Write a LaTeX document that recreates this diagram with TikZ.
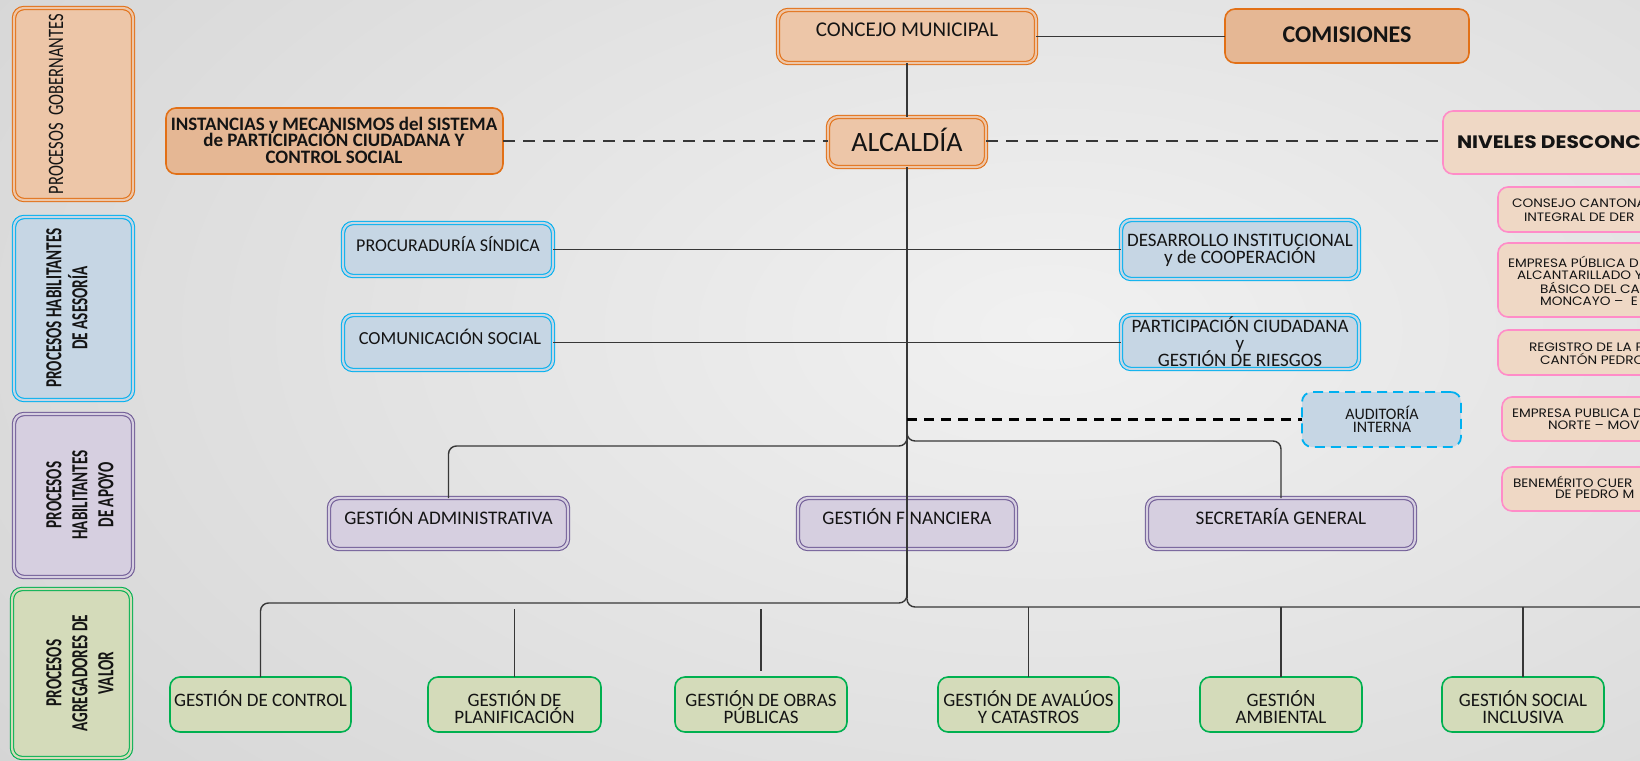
\documentclass[tikz,border=0pt]{standalone}
\usepackage{fontspec}
\setmainfont{Carlito}
\newfontfamily\condreg[FakeStretch=0.75]{Carlito}
\newfontfamily\condbold[FakeStretch=0.66]{Carlito}
\newfontfamily\gothic[FakeStretch=1.12]{Poppins}
\usetikzlibrary{fit}
\definecolor{bgin}{RGB}{241,241,241}
\definecolor{bgout}{RGB}{192,192,192}
\definecolor{orgB}{RGB}{226,112,22}
\definecolor{orgF}{RGB}{237,198,168}
\definecolor{orgF2}{RGB}{229,183,148}
\definecolor{pinkB}{RGB}{255,140,200}
\definecolor{pinkF}{RGB}{239,216,197}
\definecolor{cyanB}{RGB}{0,176,240}
\definecolor{blueF}{RGB}{198,214,228}
\definecolor{purB}{RGB}{112,92,150}
\definecolor{purF}{RGB}{214,207,224}
\definecolor{grnB}{RGB}{0,176,80}
\definecolor{grnF}{RGB}{212,219,186}
\definecolor{lineC}{RGB}{55,55,55}
\definecolor{txtC}{RGB}{20,20,20}
\pgfdeclareradialshading{bgshade}{\pgfpointorigin}{color(0bp)=(bgin); color(50bp)=(bgout); color(72bp)=(bgout)}
\newcommand{\fs}[2]{\fontsize{#1}{#2}\selectfont\lineskiplimit=-20pt\relax}
\begin{document}
\begin{tikzpicture}[x=0.5pt,y=-0.5pt,
  every node/.style={inner sep=0pt, outer sep=0pt},
  conn/.style={draw=lineC, line width=0.7pt},
  dashln/.style={draw=lineC, line width=1pt, dash pattern=on 6pt off 4pt},
  dashaud/.style={draw=black, line width=1.1pt, dash pattern=on 5pt off 3.5pt},
  dbl/.style={line width=0.55pt, double distance=1.1pt, rounded corners=5pt},
  bxo/.style={dbl, draw=orgB, fill=orgF, double=orgF},
  bxo2/.style={draw=orgB, fill=orgF2, line width=0.8pt, rounded corners=5pt},
  bxp/.style={draw=pinkB, fill=pinkF, line width=0.8pt, rounded corners=5pt},
  bxb/.style={dbl, draw=cyanB, fill=blueF, double=blueF},
  bxa/.style={draw=cyanB, fill=blueF, line width=0.9pt, rounded corners=5pt, dash pattern=on 5pt off 3pt},
  bxu/.style={dbl, draw=purB, fill=purF, double=purF},
  bxg/.style={draw=grnB, fill=grnF, line width=0.8pt, rounded corners=5pt},
  bxgd/.style={dbl, draw=grnB, fill=grnF, double=grnF},
  txt/.style={text=txtC, align=center, font=\fs{9.5}{8.5}},
  ptxt/.style={text=txtC, anchor=west, font=\gothic\fs{6.1}{7}},
  lreg/.style={text=txtC, align=center, rotate=90, font=\condreg\fs{11}{13}},
  lbold/.style={text=txtC, align=center, rotate=90, font=\condbold\bfseries\fs{11.5}{13}}
]
\useasboundingbox (0,0) rectangle (1640,761);
\clip (0,0) rectangle (1640,761);
\shade[shading=bgshade] (-100,-310) rectangle (2200,970);

% ---- left column
\node[bxo, fit={(14,8) (133,200)}] (gob) {};
\node[bxb, fit={(14,217) (133,400)}] (ases) {};
\node[bxu, fit={(14,414) (133,577)}] (apoyo) {};
\node[bxgd, fit={(12,589) (131,758)}] (agreg) {};
\node[lreg] (gob-t) at (56,104) {PROCESOS\ \ GOBERNANTES};
\node[lbold] (ases-t) at (67,308) {PROCESOS HABILITANTES\\DE ASESORÍA};
\node[lbold] (apoyo-t) at (80,495) {PROCESOS\\HABILITANTES\\DE APOYO};
\node[lbold] (agreg-t) at (80,673) {PROCESOS\\AGREGADORES DE\\VALOR};

% ---- governing
\node[bxo, fit={(778,10) (1036,63)}] (concejo) {};
\node[bxo2, fit={(1225,9) (1469,63)}] (comisiones) {};
\node[bxo, fit={(828,117) (986,167)}] (alcaldia) {};
\node[bxo2, fit={(166,108) (503,174)}] (instancias) {};
\node[txt, font=\fs{10.5}{10}] (concejo-t) at (907,30) {CONCEJO MUNICIPAL};
\node[txt, font=\bfseries\fs{12}{12}] (comisiones-t) at (1347,35) {COMISIONES};
\node[txt, font=\fs{14}{14}] (alcaldia-t) at (907,140) {ALCALDÍA};
\node[txt, font=\bfseries\fs{9.5}{8.25}] (instancias-t) at (334,140) {INSTANCIAS y MECANISMOS del SISTEMA\\de PARTICIPACIÓN CIUDADANA Y\\CONTROL SOCIAL};

% ---- decentralised (right, cut by the edge)
\node[bxp, fit={(1443,111) (1700,174)}] (niveles) {};
\node[bxp, fit={(1498,187) (1700,232)}] (pk1) {};
\node[bxp, fit={(1498,243) (1700,317)}] (pk2) {};
\node[bxp, fit={(1498,330) (1700,375)}] (pk3) {};
\node[bxp, fit={(1502,397) (1700,441)}] (pk4) {};
\node[bxp, fit={(1502,467) (1700,511)}] (pk5) {};
\node[ptxt, font=\gothic\bfseries\fs{9}{9}] (niveles-t) at (1457,142) {NIVELES DESCONC};
\node[ptxt] (pk1-a) at (1512,203) {CONSEJO CANTONA};
\node[ptxt] (pk1-b) at (1524,217) {INTEGRAL DE DER};
\node[ptxt] (pk2-a) at (1508,262) {EMPRESA PÚBLICA D};
\node[ptxt] (pk2-b) at (1517,275) {ALCANTARILLADO Y};
\node[ptxt] (pk2-c) at (1540,288) {BÁSICO DEL CA};
\node[ptxt] (pk2-d) at (1540,301) {MONCAYO –\ \ E};
\node[ptxt] (pk3-a) at (1529,347) {REGISTRO DE LA P};
\node[ptxt] (pk3-b) at (1540,359) {CANTÓN PEDRO};
\node[ptxt] (pk4-a) at (1512,413) {EMPRESA PUBLICA D};
\node[ptxt] (pk4-b) at (1548,425) {NORTE – MOV};
\node[ptxt] (pk5-a) at (1513,482) {BENEMÉRITO CUER};
\node[ptxt] (pk5-b) at (1555,494) {DE PEDRO M};

% ---- advisory
\node[bxb, fit={(343,223) (553,276)}] (proc) {};
\node[bxb, fit={(343,315) (553,370)}] (comun) {};
\node[bxb, fit={(1121,220) (1359,279)}] (desarr) {};
\node[bxb, fit={(1121,315) (1359,369)}] (partic) {};
\node[bxa, fit={(1302,392) (1461,447)}] (audit) {};
\node[txt, font=\fs{9}{9}] (proc-t) at (448,244) {PROCURADURÍA SÍNDICA};
\node[txt, font=\fs{9.2}{9}] (comun-t) at (450,337) {COMUNICACIÓN SOCIAL};
\node[txt] (desarr-t) at (1240,250.5) {DESARROLLO INSTITUCIONAL\\y de COOPERACIÓN};
\node[txt] (partic-t) at (1240,342) {PARTICIPACIÓN CIUDADANA\\y\\GESTIÓN DE RIESGOS};
\node[txt, font=\fs{8}{6.5}] (audit-t) at (1382,419.5) {AUDITORÍA\\INTERNA};

% ---- support
\node[bxu, fit={(329,498) (568,549)}] (admin) {};
\node[bxu, fit={(798,498) (1016,549)}] (financ) {};
\node[bxu, fit={(1147,498) (1415,549)}] (secret) {};
\node[txt, font=\fs{9.6}{9}] (admin-t) at (448.5,517) {GESTIÓN ADMINISTRATIVA};
\node[txt, font=\fs{9.6}{9}] (financ-t) at (907,517) {GESTIÓN FINANCIERA};
\node[txt, font=\fs{9.6}{9}] (secret-t) at (1281,517) {SECRETARÍA GENERAL};

% ---- value adding
\node[bxg, fit={(170,677) (351,732)}] (ctrl) {};
\node[bxg, fit={(428,677) (601,732)}] (plan) {};
\node[bxg, fit={(675,677) (847,732)}] (obras) {};
\node[bxg, fit={(938,677) (1119,732)}] (aval) {};
\node[bxg, fit={(1200,677) (1362,732)}] (amb) {};
\node[bxg, fit={(1442,677) (1604,732)}] (social) {};
\node[txt] (ctrl-t) at (260.5,699) {GESTIÓN DE CONTROL};
\node[txt] (plan-t) at (514.5,707.5) {GESTIÓN DE\\PLANIFICACIÓN};
\node[txt] (obras-t) at (761,707.5) {GESTIÓN DE OBRAS\\PÚBLICAS};
\node[txt] (aval-t) at (1028.5,707.5) {GESTIÓN DE AVALÚOS\\Y CATASTROS};
\node[txt] (amb-t) at (1281,707.5) {GESTIÓN\\AMBIENTAL};
\node[txt] (social-t) at (1523,707.5) {GESTIÓN SOCIAL\\INCLUSIVA};

% ---- connectors
\coordinate (dy) at (0,141);
\coordinate (ja) at (907,428);
\coordinate (jb) at (907,588);
\coordinate (hl) at (0,446);
\coordinate (hr) at (0,441);
\coordinate (hbl) at (0,603);
\coordinate (hbr) at (0,607);
\coordinate (redge) at (1680,607);
\coordinate (vend) at (907,598);
\coordinate (auditj) at (907,419.5);
\coordinate (plantop) at (514.5,609);
\coordinate (obrastop) at (761,609);
\coordinate (obrasend) at (761,671);

\draw[conn] (concejo.east) -- (comisiones.west |- concejo.east);
\draw[conn] (concejo.south) -- (alcaldia.north);
\draw[dashln] (instancias.east |- dy) -- (alcaldia.west |- dy);
\draw[dashln] (alcaldia.east |- dy) -- (niveles.west |- dy);
\draw[conn] (proc.east) -- (desarr.west |- proc.east);
\draw[conn] (comun.east) -- (partic.west |- comun.east);
\draw[conn] (alcaldia.south) -- (vend);
\draw[dashaud] (auditj) -- (audit.west |- auditj);
\draw[conn, rounded corners=4pt] (ja) |- (admin.north |- hl) -- (admin.north);
\draw[conn, rounded corners=4pt] (ja) |- (secret.north |- hr) -- (secret.north);
\draw[conn, rounded corners=4pt] (jb) |- (ctrl.north |- hbl) -- (ctrl.north);
\draw[conn, rounded corners=4pt] (jb) |- (redge);
\draw[conn] (plantop) -- (plan.north);
\draw[conn] (obrastop) -- (obrasend);
\draw[conn] (aval.north |- hbr) -- (aval.north);
\draw[conn] (amb.north |- hbr) -- (amb.north);
\draw[conn] (social.north |- hbr) -- (social.north);
\end{tikzpicture}
\end{document}
